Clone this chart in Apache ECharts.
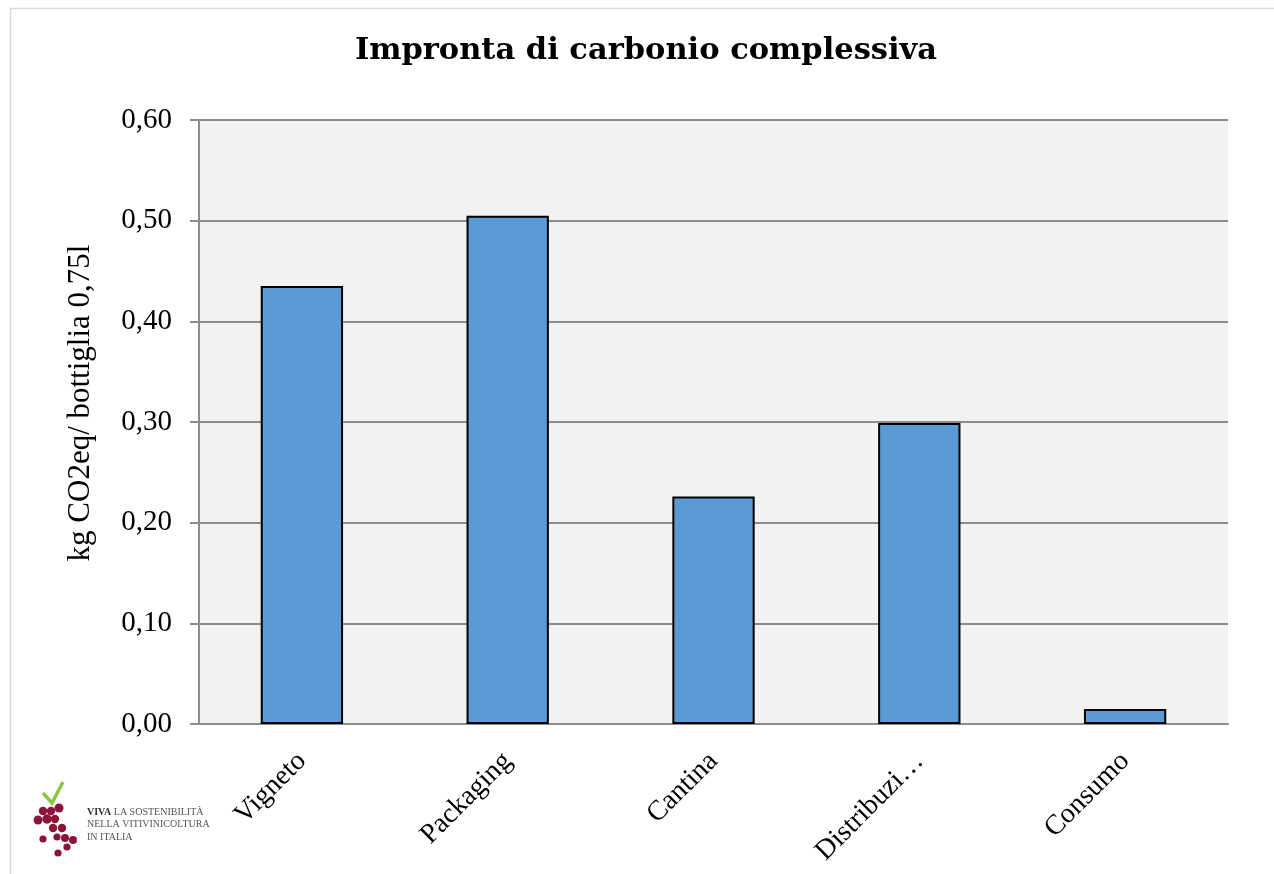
<!DOCTYPE html>
<html>
<head>
<meta charset="utf-8">
<script src="https://cdn.jsdelivr.net/npm/echarts@6/dist/echarts.min.js"></script>
<style>
html,body{margin:0;padding:0;background:#fff;}
#chart{width:1274px;height:874px;}
</style>
</head>
<body>
<div id="chart"></div>
<script>
const titleText = 'Impronta di carbonio complessiva';
const yAxisName = 'kg CO2eq/ bottiglia 0,75l';
const categories = ['Vigneto', 'Packaging', 'Cantina', 'Distribuzi…', 'Consumo'];
const values = [0.435, 0.505, 0.226, 0.299, 0.015];
const yTicks = [0, 0.1, 0.2, 0.3, 0.4, 0.5, 0.6];
const logoBold = 'VIVA';
const logoLines = ['LA SOSTENIBILITÀ', 'NELLA VITIVINICOLTURA', 'IN ITALIA'];

const FONT = 'Liberation Serif';
const TFONT = 'DejaVu Serif';
const chart = echarts.init(document.getElementById('chart'), null, {renderer: 'canvas'});

const grapes = [
  [43,811,4.2],[51,811,4.2],[59,808,4.5],[38,820,4.5],[47,819,4.7],[55,819,4.2],
  [53,828,4.2],[62,828,4.2],[43,839,3.6],[57,837,3.6],[65,838,4],[73,840,4],[67,847,3.6],[58,853,3.6]
];

chart.setOption({
  animation: false,
  backgroundColor: '#ffffff',
  title: {
    text: titleText,
    left: 641, top: 31, textAlign: 'center',
    textStyle: {fontFamily: TFONT, fontWeight: 'bold', fontSize: 30.5, color: '#000'}
  },
  grid: {left: 199, right: 46, top: 120, bottom: 150, containLabel: false,
    show: true, backgroundColor: '#f2f2f2', borderWidth: 0},
  xAxis: {
    type: 'category', data: categories,
    axisLine: {show: true, lineStyle: {color: '#8c8c8c', width: 2}},
    axisTick: {show: false},
    axisLabel: {rotate: 45, fontFamily: FONT, fontSize: 28, color: '#000', margin: 33, interval: 0}
  },
  yAxis: {
    type: 'value', min: 0, max: 0.6, interval: 0.1,
    name: yAxisName, nameLocation: 'middle', nameGap: 103, nameRotate: 90,
    nameTextStyle: {fontFamily: FONT, fontSize: 31, color: '#000', padding: [0, 0, 0, 38]},
    axisLine: {show: true, lineStyle: {color: '#8c8c8c', width: 2}},
    axisTick: {show: true, length: 9, lineStyle: {color: '#8c8c8c', width: 2}},
    splitLine: {show: true, lineStyle: {color: '#8c8c8c', width: 2}},
    axisLabel: {fontFamily: FONT, fontSize: 29, color: '#000', margin: 27,
      formatter: v => v.toFixed(2).replace('.', ',')}
  },
  series: [{
    type: 'bar', data: values, barWidth: '40%',
    itemStyle: {color: '#5b9bd5', borderColor: '#000', borderWidth: 2}
  }],
  graphic: [
    {type: 'rect', shape: {x: 10.5, y: 8.5, width: 1400, height: 1000},
      style: {fill: null, stroke: '#d9d9d9', lineWidth: 1.5}, silent: true},
    {type: 'polyline', shape: {points: [[43,793],[52,803],[63,782]]},
      style: {stroke: '#8dc63f', lineWidth: 3.5, fill: null}},
    ...grapes.map(g => ({type: 'circle', shape: {cx: g[0], cy: g[1], r: g[2]}, style: {fill: '#8b1538'}})),
    {type: 'text', x: 87, y: 812, style: {
      text: '{b|' + logoBold + '} ' + logoLines[0], fontFamily: FONT, fontSize: 10, fill: '#555', verticalAlign: 'middle',
      rich: {b: {fontFamily: FONT, fontWeight: 'bold', fontSize: 10, fill: '#333'}}}},
    {type: 'text', x: 87, y: 824, style: {text: logoLines[1], fontFamily: FONT, fontSize: 10, fill: '#555', verticalAlign: 'middle'}},
    {type: 'text', x: 87, y: 837, style: {text: logoLines[2], fontFamily: FONT, fontSize: 10, fill: '#555', verticalAlign: 'middle'}}
  ]
});
</script>
</body>
</html>
